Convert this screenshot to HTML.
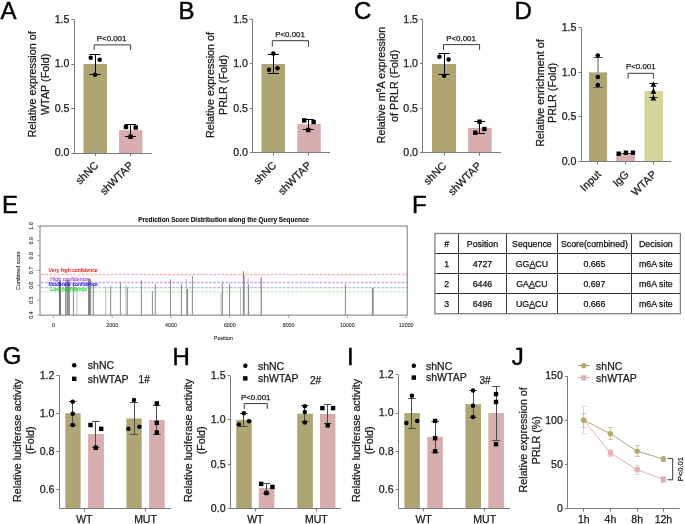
<!DOCTYPE html>
<html><head><meta charset="utf-8"><style>
html,body{margin:0;padding:0;background:#fff;}
body{width:685px;height:524px;overflow:hidden;font-family:"Liberation Sans", sans-serif;}
svg{display:block;will-change:transform;}
text{font-family:"Liberation Sans", sans-serif;}
</style></head><body>
<svg width="685" height="524" viewBox="0 0 685 524" font-family='"Liberation Sans", sans-serif'>
<rect width="685" height="524" fill="#fff"/>
<text x="0.4" y="18.8" font-size="24" text-anchor="start" fill="#000" stroke="#000" stroke-width="0.45">A</text>
<text x="178.4" y="18.8" font-size="24" text-anchor="start" fill="#000" stroke="#000" stroke-width="0.45">B</text>
<text x="353.9" y="18.6" font-size="24" text-anchor="start" fill="#000" stroke="#000" stroke-width="0.45">C</text>
<text x="514.5" y="18.7" font-size="24" text-anchor="start" fill="#000" stroke="#000" stroke-width="0.45">D</text>
<rect x="83.5" y="64" width="23.5" height="89" fill="#aea573"/>
<rect x="119" y="130.2" width="23.4" height="22.8" fill="#d8adad"/>
<line x1="74.5" y1="19.5" x2="74.5" y2="153" stroke="#7a7a7a" stroke-width="1" />
<line x1="71.4" y1="153.5" x2="74" y2="153.5" stroke="#7a7a7a" stroke-width="1" />
<text x="69.4" y="156.4" font-size="10.6" text-anchor="end" fill="#1a1a1a" stroke="#1a1a1a" stroke-width="0.25" >0.0</text>
<line x1="71.4" y1="108.5" x2="74" y2="108.5" stroke="#7a7a7a" stroke-width="1" />
<text x="69.4" y="111.9" font-size="10.6" text-anchor="end" fill="#1a1a1a" stroke="#1a1a1a" stroke-width="0.25" >0.5</text>
<line x1="71.4" y1="64.5" x2="74" y2="64.5" stroke="#7a7a7a" stroke-width="1" />
<text x="69.4" y="67.4" font-size="10.6" text-anchor="end" fill="#1a1a1a" stroke="#1a1a1a" stroke-width="0.25" >1.0</text>
<line x1="71.4" y1="19.5" x2="74" y2="19.5" stroke="#7a7a7a" stroke-width="1" />
<text x="69.4" y="22.9" font-size="10.6" text-anchor="end" fill="#1a1a1a" stroke="#1a1a1a" stroke-width="0.25" >1.5</text>
<line x1="74" y1="153.5" x2="152" y2="153.5" stroke="#7a7a7a" stroke-width="1" />
<line x1="95.5" y1="153" x2="95.5" y2="156" stroke="#7a7a7a" stroke-width="1" />
<line x1="130.5" y1="153" x2="130.5" y2="156" stroke="#7a7a7a" stroke-width="1" />
<line x1="95.5" y1="54.8" x2="95.5" y2="74" stroke="#000" stroke-width="1" />
<line x1="89.5" y1="54.5" x2="100.5" y2="54.5" stroke="#000" stroke-width="1" />
<line x1="89.5" y1="74.5" x2="100.5" y2="74.5" stroke="#000" stroke-width="1" />
<line x1="130.5" y1="124.8" x2="130.5" y2="136.8" stroke="#000" stroke-width="1" />
<line x1="125.1" y1="124.5" x2="136.1" y2="124.5" stroke="#000" stroke-width="1" />
<line x1="125.1" y1="136.5" x2="136.1" y2="136.5" stroke="#000" stroke-width="1" />
<circle cx="90.7" cy="57.7" r="2.25" fill="#000"/>
<circle cx="99.6" cy="59.8" r="2.25" fill="#000"/>
<circle cx="95" cy="74.8" r="2.25" fill="#000"/>
<rect x="123.8" y="124.8" width="4.4" height="4.4" fill="#000"/>
<rect x="133.5" y="125.3" width="4.4" height="4.4" fill="#000"/>
<rect x="128.4" y="134.6" width="4.4" height="4.4" fill="#000"/>
<polyline points="94.2,50 94.2,44.9 130.6,44.9 130.6,50" fill="none" stroke="#222" stroke-width="0.9"/>
<text x="111.6" y="41.4" font-size="7.9" text-anchor="middle" fill="#1a1a1a" stroke="#1a1a1a" stroke-width="0.25" >P&lt;0.001</text>
<text x="0" y="0" transform="translate(36,84.4) rotate(-90)" font-size="10.8" text-anchor="middle" fill="#1a1a1a" stroke="#1a1a1a" stroke-width="0.25" >Relative expression of</text>
<text x="0" y="0" transform="translate(48.5,84.4) rotate(-90)" font-size="10.8" text-anchor="middle" fill="#1a1a1a" stroke="#1a1a1a" stroke-width="0.25" >WTAP (Fold)</text>
<text x="0" y="0" transform="translate(99,166) rotate(-45)" font-size="10.8" text-anchor="end" fill="#1a1a1a" stroke="#1a1a1a" stroke-width="0.25" >shNC</text>
<text x="0" y="0" transform="translate(134,166) rotate(-45)" font-size="10.8" text-anchor="end" fill="#1a1a1a" stroke="#1a1a1a" stroke-width="0.25" >shWTAP</text>
<rect x="261.5" y="64" width="23.5" height="88.7" fill="#aea573"/>
<rect x="297.3" y="124.1" width="23.5" height="28.6" fill="#d8adad"/>
<line x1="252.5" y1="19.2" x2="252.5" y2="152.7" stroke="#7a7a7a" stroke-width="1" />
<line x1="249.9" y1="152.5" x2="252.5" y2="152.5" stroke="#7a7a7a" stroke-width="1" />
<text x="247.9" y="156.1" font-size="10.6" text-anchor="end" fill="#1a1a1a" stroke="#1a1a1a" stroke-width="0.25" >0.0</text>
<line x1="249.9" y1="108.5" x2="252.5" y2="108.5" stroke="#7a7a7a" stroke-width="1" />
<text x="247.9" y="111.6" font-size="10.6" text-anchor="end" fill="#1a1a1a" stroke="#1a1a1a" stroke-width="0.25" >0.5</text>
<line x1="249.9" y1="63.5" x2="252.5" y2="63.5" stroke="#7a7a7a" stroke-width="1" />
<text x="247.9" y="67.1" font-size="10.6" text-anchor="end" fill="#1a1a1a" stroke="#1a1a1a" stroke-width="0.25" >1.0</text>
<line x1="249.9" y1="19.5" x2="252.5" y2="19.5" stroke="#7a7a7a" stroke-width="1" />
<text x="247.9" y="22.6" font-size="10.6" text-anchor="end" fill="#1a1a1a" stroke="#1a1a1a" stroke-width="0.25" >1.5</text>
<line x1="252.5" y1="152.5" x2="330" y2="152.5" stroke="#7a7a7a" stroke-width="1" />
<line x1="273.5" y1="152.7" x2="273.5" y2="155.7" stroke="#7a7a7a" stroke-width="1" />
<line x1="308.5" y1="152.7" x2="308.5" y2="155.7" stroke="#7a7a7a" stroke-width="1" />
<line x1="273.5" y1="54.4" x2="273.5" y2="73.1" stroke="#000" stroke-width="1" />
<line x1="267.8" y1="54.5" x2="278.8" y2="54.5" stroke="#000" stroke-width="1" />
<line x1="267.8" y1="73.5" x2="278.8" y2="73.5" stroke="#000" stroke-width="1" />
<line x1="308.5" y1="119.3" x2="308.5" y2="129.5" stroke="#000" stroke-width="1" />
<line x1="302.7" y1="119.5" x2="313.7" y2="119.5" stroke="#000" stroke-width="1" />
<line x1="302.7" y1="129.5" x2="313.7" y2="129.5" stroke="#000" stroke-width="1" />
<circle cx="273.3" cy="53.6" r="2.25" fill="#000"/>
<circle cx="269" cy="69.7" r="2.25" fill="#000"/>
<circle cx="277.5" cy="68.3" r="2.25" fill="#000"/>
<rect x="302" y="118.2" width="4.4" height="4.4" fill="#000"/>
<rect x="311.4" y="119.8" width="4.4" height="4.4" fill="#000"/>
<rect x="306" y="127.8" width="4.4" height="4.4" fill="#000"/>
<polyline points="272.3,46.6 272.3,40.7 308.5,40.7 308.5,46.6" fill="none" stroke="#222" stroke-width="0.9"/>
<text x="290" y="36.6" font-size="7.9" text-anchor="middle" fill="#1a1a1a" stroke="#1a1a1a" stroke-width="0.25" >P&lt;0.001</text>
<text x="0" y="0" transform="translate(214.3,85) rotate(-90)" font-size="10.8" text-anchor="middle" fill="#1a1a1a" stroke="#1a1a1a" stroke-width="0.25" >Relative expression of</text>
<text x="0" y="0" transform="translate(227.3,85) rotate(-90)" font-size="10.8" text-anchor="middle" fill="#1a1a1a" stroke="#1a1a1a" stroke-width="0.25" >PRLR (Fold)</text>
<text x="0" y="0" transform="translate(277,166) rotate(-45)" font-size="10.8" text-anchor="end" fill="#1a1a1a" stroke="#1a1a1a" stroke-width="0.25" >shNC</text>
<text x="0" y="0" transform="translate(312,166) rotate(-45)" font-size="10.8" text-anchor="end" fill="#1a1a1a" stroke="#1a1a1a" stroke-width="0.25" >shWTAP</text>
<rect x="432" y="64" width="24.1" height="88.7" fill="#aea573"/>
<rect x="468.1" y="127.9" width="23.5" height="24.8" fill="#d8adad"/>
<line x1="422.5" y1="19.2" x2="422.5" y2="152.7" stroke="#7a7a7a" stroke-width="1" />
<line x1="420" y1="152.5" x2="422.6" y2="152.5" stroke="#7a7a7a" stroke-width="1" />
<text x="418" y="156.1" font-size="10.6" text-anchor="end" fill="#1a1a1a" stroke="#1a1a1a" stroke-width="0.25" >0.0</text>
<line x1="420" y1="108.5" x2="422.6" y2="108.5" stroke="#7a7a7a" stroke-width="1" />
<text x="418" y="111.6" font-size="10.6" text-anchor="end" fill="#1a1a1a" stroke="#1a1a1a" stroke-width="0.25" >0.5</text>
<line x1="420" y1="63.5" x2="422.6" y2="63.5" stroke="#7a7a7a" stroke-width="1" />
<text x="418" y="67.1" font-size="10.6" text-anchor="end" fill="#1a1a1a" stroke="#1a1a1a" stroke-width="0.25" >1.0</text>
<line x1="420" y1="19.5" x2="422.6" y2="19.5" stroke="#7a7a7a" stroke-width="1" />
<text x="418" y="22.6" font-size="10.6" text-anchor="end" fill="#1a1a1a" stroke="#1a1a1a" stroke-width="0.25" >1.5</text>
<line x1="422.6" y1="152.5" x2="501" y2="152.5" stroke="#7a7a7a" stroke-width="1" />
<line x1="444.5" y1="152.7" x2="444.5" y2="155.7" stroke="#7a7a7a" stroke-width="1" />
<line x1="479.5" y1="152.7" x2="479.5" y2="155.7" stroke="#7a7a7a" stroke-width="1" />
<line x1="444.5" y1="53.9" x2="444.5" y2="74.5" stroke="#000" stroke-width="1" />
<line x1="438.5" y1="53.5" x2="449.5" y2="53.5" stroke="#000" stroke-width="1" />
<line x1="438.5" y1="74.5" x2="449.5" y2="74.5" stroke="#000" stroke-width="1" />
<line x1="479.5" y1="121.7" x2="479.5" y2="133" stroke="#000" stroke-width="1" />
<line x1="474.1" y1="121.5" x2="485.1" y2="121.5" stroke="#000" stroke-width="1" />
<line x1="474.1" y1="133.5" x2="485.1" y2="133.5" stroke="#000" stroke-width="1" />
<circle cx="439.4" cy="56.8" r="2.25" fill="#000"/>
<circle cx="448.6" cy="59.5" r="2.25" fill="#000"/>
<circle cx="444.1" cy="75.8" r="2.25" fill="#000"/>
<rect x="477.4" y="119.5" width="4.4" height="4.4" fill="#000"/>
<rect x="482.2" y="126.8" width="4.4" height="4.4" fill="#000"/>
<rect x="473.1" y="130.5" width="4.4" height="4.4" fill="#000"/>
<polyline points="443.5,49.9 443.5,44.6 479.6,44.6 479.6,49.9" fill="none" stroke="#222" stroke-width="0.9"/>
<text x="461" y="40.9" font-size="7.9" text-anchor="middle" fill="#1a1a1a" stroke="#1a1a1a" stroke-width="0.25" >P&lt;0.001</text>
<text x="0" y="0" transform="translate(447,166.5) rotate(-45)" font-size="10.8" text-anchor="end" fill="#1a1a1a" stroke="#1a1a1a" stroke-width="0.25" >shNC</text>
<text x="0" y="0" transform="translate(482,166.5) rotate(-45)" font-size="10.8" text-anchor="end" fill="#1a1a1a" stroke="#1a1a1a" stroke-width="0.25" >shWTAP</text>
<text x="0" y="0" transform="translate(384.5,85) rotate(-90)" font-size="10.8" text-anchor="middle" fill="#1a1a1a" stroke="#1a1a1a" stroke-width="0.25" >Relative m<tspan font-size="7" dy="-4">6</tspan><tspan dy="4">A expression</tspan></text>
<text x="0" y="0" transform="translate(397.5,86) rotate(-90)" font-size="10.8" text-anchor="middle" fill="#1a1a1a" stroke="#1a1a1a" stroke-width="0.25" >of PRLR (Fold)</text>
<rect x="589" y="72.4" width="18.1" height="88.8" fill="#aea573"/>
<rect x="616.3" y="154.3" width="18.7" height="6.9" fill="#d8adad"/>
<rect x="644.4" y="91" width="18.6" height="70.2" fill="#d5d59b"/>
<line x1="581.5" y1="27.7" x2="581.5" y2="161.2" stroke="#7a7a7a" stroke-width="1" />
<line x1="578.4" y1="161.5" x2="581" y2="161.5" stroke="#7a7a7a" stroke-width="1" />
<text x="576.4" y="164.6" font-size="10.6" text-anchor="end" fill="#1a1a1a" stroke="#1a1a1a" stroke-width="0.25" >0.0</text>
<line x1="578.4" y1="116.5" x2="581" y2="116.5" stroke="#7a7a7a" stroke-width="1" />
<text x="576.4" y="120.1" font-size="10.6" text-anchor="end" fill="#1a1a1a" stroke="#1a1a1a" stroke-width="0.25" >0.5</text>
<line x1="578.4" y1="72.5" x2="581" y2="72.5" stroke="#7a7a7a" stroke-width="1" />
<text x="576.4" y="75.6" font-size="10.6" text-anchor="end" fill="#1a1a1a" stroke="#1a1a1a" stroke-width="0.25" >1.0</text>
<line x1="578.4" y1="27.5" x2="581" y2="27.5" stroke="#7a7a7a" stroke-width="1" />
<text x="576.4" y="31.1" font-size="10.6" text-anchor="end" fill="#1a1a1a" stroke="#1a1a1a" stroke-width="0.25" >1.5</text>
<line x1="581" y1="161.5" x2="671" y2="161.5" stroke="#7a7a7a" stroke-width="1" />
<line x1="597.5" y1="161.2" x2="597.5" y2="164.2" stroke="#7a7a7a" stroke-width="1" />
<line x1="625.5" y1="161.2" x2="625.5" y2="164.2" stroke="#7a7a7a" stroke-width="1" />
<line x1="653.5" y1="161.2" x2="653.5" y2="164.2" stroke="#7a7a7a" stroke-width="1" />
<line x1="598.1" y1="57.2" x2="598.1" y2="87.6" stroke="#a0a0a0" stroke-width="1.7" />
<line x1="593.3" y1="57.5" x2="602.9" y2="57.5" stroke="#555" stroke-width="1" />
<line x1="593.3" y1="87.5" x2="602.9" y2="87.5" stroke="#555" stroke-width="1" />
<line x1="653.5" y1="83.6" x2="653.5" y2="97.6" stroke="#333" stroke-width="1" />
<line x1="649.1" y1="83.5" x2="657.7" y2="83.5" stroke="#333" stroke-width="1" />
<line x1="649.1" y1="97.5" x2="657.7" y2="97.5" stroke="#333" stroke-width="1" />
<line x1="625.5" y1="153.5" x2="625.5" y2="153.5" stroke="#333" stroke-width="1" />
<line x1="621.4" y1="153.5" x2="630.4" y2="153.5" stroke="#333" stroke-width="1" />
<line x1="621.4" y1="153.5" x2="630.4" y2="153.5" stroke="#333" stroke-width="1" />
<circle cx="597.8" cy="55.5" r="2.25" fill="#000"/>
<circle cx="597.8" cy="77" r="2.25" fill="#000"/>
<circle cx="597.8" cy="85" r="2.25" fill="#000"/>
<rect x="616.5" y="151.5" width="4.4" height="4.4" fill="#000"/>
<rect x="623.7" y="150.5" width="4.4" height="4.4" fill="#000"/>
<rect x="630.7" y="150.5" width="4.4" height="4.4" fill="#000"/>
<polygon points="653.4,81.18 656.2,86.82 650.6,86.82" fill="#000"/>
<polygon points="653.4,88.08 656.2,93.72 650.6,93.72" fill="#000"/>
<polygon points="653.4,94.78 656.2,100.42 650.6,100.42" fill="#000"/>
<polyline points="628.1,78.6 628.1,73.3 653.4,73.3 653.4,78.6" fill="none" stroke="#222" stroke-width="0.9"/>
<text x="640.8" y="68.6" font-size="7.9" text-anchor="middle" fill="#1a1a1a" stroke="#1a1a1a" stroke-width="0.25" >P&lt;0.001</text>
<text x="0" y="0" transform="translate(543.5,93) rotate(-90)" font-size="10.8" text-anchor="middle" fill="#1a1a1a" stroke="#1a1a1a" stroke-width="0.25" >Relative enrichment of</text>
<text x="0" y="0" transform="translate(555.7,93) rotate(-90)" font-size="10.8" text-anchor="middle" fill="#1a1a1a" stroke="#1a1a1a" stroke-width="0.25" >PRLR (Fold)</text>
<text x="0" y="0" transform="translate(601.5,175) rotate(-45)" font-size="10.8" text-anchor="end" fill="#1a1a1a" stroke="#1a1a1a" stroke-width="0.25" >Input</text>
<text x="0" y="0" transform="translate(629.5,175) rotate(-45)" font-size="10.8" text-anchor="end" fill="#1a1a1a" stroke="#1a1a1a" stroke-width="0.25" >IgG</text>
<text x="0" y="0" transform="translate(657.3,175) rotate(-45)" font-size="10.8" text-anchor="end" fill="#1a1a1a" stroke="#1a1a1a" stroke-width="0.25" >WTAP</text>
<text x="1.9" y="212.9" font-size="24" text-anchor="start" fill="#000" stroke="#000" stroke-width="0.45">E</text>
<line x1="41" y1="274.5" x2="407.2" y2="274.5" stroke="#f8b8b8" stroke-width="1.4" stroke-dasharray="2.8 1.3"/>
<line x1="41" y1="282.5" x2="407.2" y2="282.5" stroke="#cfa8f6" stroke-width="1.4" stroke-dasharray="2.8 1.3"/>
<line x1="41" y1="287.6" x2="407.2" y2="287.6" stroke="#b8b8f8" stroke-width="1.4" stroke-dasharray="2.8 1.3"/>
<line x1="41" y1="291.9" x2="407.2" y2="291.9" stroke="#b8f0b8" stroke-width="1.4" stroke-dasharray="2.8 1.3"/>
<line x1="59.5" y1="280.6" x2="59.5" y2="315.1" stroke="#4a4a4a" stroke-width="0.8" />
<line x1="60.4" y1="280.6" x2="60.4" y2="315.1" stroke="#4a4a4a" stroke-width="0.8" />
<line x1="65.5" y1="281.5" x2="65.5" y2="315.1" stroke="#6e6e6e" stroke-width="0.8" />
<line x1="67.1" y1="279.7" x2="67.1" y2="315.1" stroke="#4a4a4a" stroke-width="0.8" />
<line x1="68.1" y1="279.7" x2="68.1" y2="315.1" stroke="#4a4a4a" stroke-width="0.8" />
<line x1="69.2" y1="280.5" x2="69.2" y2="315.1" stroke="#4a4a4a" stroke-width="0.8" />
<line x1="73.4" y1="281.8" x2="73.4" y2="315.1" stroke="#6e6e6e" stroke-width="0.8" />
<line x1="76.9" y1="286.5" x2="76.9" y2="315.1" stroke="#b0b0b0" stroke-width="0.8" />
<line x1="88.7" y1="278.3" x2="88.7" y2="315.1" stroke="#4a4a4a" stroke-width="0.8" />
<line x1="89.7" y1="278.3" x2="89.7" y2="315.1" stroke="#4a4a4a" stroke-width="0.8" />
<line x1="90.7" y1="279.5" x2="90.7" y2="315.1" stroke="#6e6e6e" stroke-width="0.8" />
<line x1="93.4" y1="283.8" x2="93.4" y2="315.1" stroke="#6e6e6e" stroke-width="0.8" />
<line x1="105.7" y1="286.7" x2="105.7" y2="315.1" stroke="#b0b0b0" stroke-width="0.8" />
<line x1="110.7" y1="286" x2="110.7" y2="315.1" stroke="#6e6e6e" stroke-width="0.8" />
<line x1="120.4" y1="282.6" x2="120.4" y2="315.1" stroke="#6e6e6e" stroke-width="0.8" />
<line x1="126" y1="284.8" x2="126" y2="315.1" stroke="#b0b0b0" stroke-width="0.8" />
<line x1="127.3" y1="287.7" x2="127.3" y2="315.1" stroke="#6e6e6e" stroke-width="0.8" />
<line x1="141.4" y1="280.4" x2="141.4" y2="315.1" stroke="#6e6e6e" stroke-width="0.8" />
<line x1="152.4" y1="291.1" x2="152.4" y2="315.1" stroke="#6e6e6e" stroke-width="0.8" />
<line x1="155.3" y1="284.1" x2="155.3" y2="315.1" stroke="#6e6e6e" stroke-width="0.8" />
<line x1="170.5" y1="279.3" x2="170.5" y2="315.1" stroke="#6e6e6e" stroke-width="0.8" />
<line x1="181.4" y1="284.1" x2="181.4" y2="315.1" stroke="#6e6e6e" stroke-width="0.8" />
<line x1="186.5" y1="279" x2="186.5" y2="315.1" stroke="#b0b0b0" stroke-width="0.8" />
<line x1="187.3" y1="288.9" x2="187.3" y2="315.1" stroke="#4a4a4a" stroke-width="0.8" />
<line x1="192.4" y1="275.8" x2="192.4" y2="315.1" stroke="#6e6e6e" stroke-width="0.8" />
<line x1="221.1" y1="292.1" x2="221.1" y2="315.1" stroke="#b0b0b0" stroke-width="0.8" />
<line x1="222.4" y1="281.9" x2="222.4" y2="315.1" stroke="#6e6e6e" stroke-width="0.8" />
<line x1="229.5" y1="283.4" x2="229.5" y2="315.1" stroke="#6e6e6e" stroke-width="0.8" />
<line x1="240.5" y1="286.3" x2="240.5" y2="315.1" stroke="#b0b0b0" stroke-width="0.8" />
<line x1="243.4" y1="271" x2="243.4" y2="315.1" stroke="#6e6e6e" stroke-width="0.8" />
<line x1="244.2" y1="275.3" x2="244.2" y2="315.1" stroke="#6e6e6e" stroke-width="0.8" />
<line x1="248.2" y1="277.2" x2="248.2" y2="315.1" stroke="#b0b0b0" stroke-width="0.8" />
<line x1="248.6" y1="284.8" x2="248.6" y2="315.1" stroke="#6e6e6e" stroke-width="0.8" />
<line x1="261.2" y1="277.2" x2="261.2" y2="315.1" stroke="#4a4a4a" stroke-width="0.8" />
<line x1="345.4" y1="284.1" x2="345.4" y2="315.1" stroke="#6e6e6e" stroke-width="0.8" />
<line x1="372.4" y1="287.8" x2="372.4" y2="315.1" stroke="#6e6e6e" stroke-width="0.8" />
<line x1="373.2" y1="287.8" x2="373.2" y2="315.1" stroke="#6e6e6e" stroke-width="0.8" />
<rect x="40" y="226" width="367.2" height="89.1" fill="none" stroke="#7a7a7a" stroke-width="1"/>
<line x1="37.2" y1="315.1" x2="40" y2="315.1" stroke="#888" stroke-width="0.8" />
<text x="0" y="0" transform="translate(33,315.1) rotate(-90)" font-size="5.3" text-anchor="middle" fill="#333" stroke="#333" stroke-width="0.12" >0.4</text>
<line x1="37.2" y1="300.25" x2="40" y2="300.25" stroke="#888" stroke-width="0.8" />
<text x="0" y="0" transform="translate(33,300.25) rotate(-90)" font-size="5.3" text-anchor="middle" fill="#333" stroke="#333" stroke-width="0.12" >0.5</text>
<line x1="37.2" y1="285.4" x2="40" y2="285.4" stroke="#888" stroke-width="0.8" />
<text x="0" y="0" transform="translate(33,285.4) rotate(-90)" font-size="5.3" text-anchor="middle" fill="#333" stroke="#333" stroke-width="0.12" >0.6</text>
<line x1="37.2" y1="270.55" x2="40" y2="270.55" stroke="#888" stroke-width="0.8" />
<text x="0" y="0" transform="translate(33,270.55) rotate(-90)" font-size="5.3" text-anchor="middle" fill="#333" stroke="#333" stroke-width="0.12" >0.7</text>
<line x1="37.2" y1="255.7" x2="40" y2="255.7" stroke="#888" stroke-width="0.8" />
<text x="0" y="0" transform="translate(33,255.7) rotate(-90)" font-size="5.3" text-anchor="middle" fill="#333" stroke="#333" stroke-width="0.12" >0.8</text>
<line x1="37.2" y1="240.85" x2="40" y2="240.85" stroke="#888" stroke-width="0.8" />
<text x="0" y="0" transform="translate(33,240.85) rotate(-90)" font-size="5.3" text-anchor="middle" fill="#333" stroke="#333" stroke-width="0.12" >0.9</text>
<line x1="37.2" y1="226" x2="40" y2="226" stroke="#888" stroke-width="0.8" />
<text x="0" y="0" transform="translate(33,226) rotate(-90)" font-size="5.3" text-anchor="middle" fill="#333" stroke="#333" stroke-width="0.12" >1.0</text>
<line x1="53.4" y1="315.1" x2="53.4" y2="317.9" stroke="#888" stroke-width="0.8" />
<text x="53.4" y="326.8" font-size="5.3" text-anchor="middle" fill="#333" stroke="#333" stroke-width="0.12" >0</text>
<line x1="112.2" y1="315.1" x2="112.2" y2="317.9" stroke="#888" stroke-width="0.8" />
<text x="112.2" y="326.8" font-size="5.3" text-anchor="middle" fill="#333" stroke="#333" stroke-width="0.12" >2000</text>
<line x1="171" y1="315.1" x2="171" y2="317.9" stroke="#888" stroke-width="0.8" />
<text x="171" y="326.8" font-size="5.3" text-anchor="middle" fill="#333" stroke="#333" stroke-width="0.12" >4000</text>
<line x1="229.8" y1="315.1" x2="229.8" y2="317.9" stroke="#888" stroke-width="0.8" />
<text x="229.8" y="326.8" font-size="5.3" text-anchor="middle" fill="#333" stroke="#333" stroke-width="0.12" >6000</text>
<line x1="288.6" y1="315.1" x2="288.6" y2="317.9" stroke="#888" stroke-width="0.8" />
<text x="288.6" y="326.8" font-size="5.3" text-anchor="middle" fill="#333" stroke="#333" stroke-width="0.12" >8000</text>
<line x1="347.4" y1="315.1" x2="347.4" y2="317.9" stroke="#888" stroke-width="0.8" />
<text x="347.4" y="326.8" font-size="5.3" text-anchor="middle" fill="#333" stroke="#333" stroke-width="0.12" >10000</text>
<line x1="406.2" y1="315.1" x2="406.2" y2="317.9" stroke="#888" stroke-width="0.8" />
<text x="406.2" y="326.8" font-size="5.3" text-anchor="middle" fill="#333" stroke="#333" stroke-width="0.12" >12000</text>
<text x="223.4" y="339.7" font-size="5.4" text-anchor="middle" fill="#333" stroke="#333" stroke-width="0.12" >Position</text>
<text x="0" y="0" transform="translate(20,270.6) rotate(-90)" font-size="5.3" text-anchor="middle" fill="#333" stroke="#333" stroke-width="0.12" >Combined score</text>
<text x="223.6" y="221.7" font-size="6.4" text-anchor="middle" fill="#111" font-weight="bold" stroke="#111" stroke-width="0.12" >Prediction Score Distribution along the Query Sequence</text>
<text x="48.6" y="272.2" font-size="5.3" text-anchor="start" fill="#f01010" stroke="#f01010" stroke-width="0.12" >Very high confidence</text>
<text x="50.3" y="280.6" font-size="5.3" text-anchor="start" fill="#a040f0" stroke="#a040f0" stroke-width="0.12" >High confidence</text>
<text x="48.6" y="286.1" font-size="5.3" text-anchor="start" fill="#1010f0" stroke="#1010f0" stroke-width="0.12" >Moderate confidence</text>
<text x="50.3" y="291" font-size="5.3" text-anchor="start" fill="#10d010" stroke="#10d010" stroke-width="0.12" >Low confidence</text>
<text x="412" y="212.9" font-size="24" text-anchor="start" fill="#000" stroke="#000" stroke-width="0.45">F</text>
<line x1="458.5" y1="233.5" x2="458.5" y2="313.7" stroke="#333" stroke-width="1" />
<line x1="506.5" y1="233.5" x2="506.5" y2="313.7" stroke="#333" stroke-width="1" />
<line x1="557.5" y1="233.5" x2="557.5" y2="313.7" stroke="#333" stroke-width="1" />
<line x1="631.5" y1="233.5" x2="631.5" y2="313.7" stroke="#333" stroke-width="1" />
<line x1="434.9" y1="253.5" x2="680.4" y2="253.5" stroke="#333" stroke-width="1" />
<line x1="434.9" y1="273.5" x2="680.4" y2="273.5" stroke="#333" stroke-width="1" />
<line x1="434.9" y1="293.5" x2="680.4" y2="293.5" stroke="#333" stroke-width="1" />
<rect x="434.9" y="233.5" width="245.5" height="80.2" fill="none" stroke="#808080" stroke-width="1.3"/>
<text x="446.7" y="246.75" font-size="8.8" text-anchor="middle" fill="#111" stroke="#111" stroke-width="0.25" >#</text>
<text x="482.45" y="246.75" font-size="8.8" text-anchor="middle" fill="#111" stroke="#111" stroke-width="0.25" >Position</text>
<text x="531.9" y="246.75" font-size="8.8" text-anchor="middle" fill="#111" stroke="#111" stroke-width="0.25" >Sequence</text>
<text x="594.4" y="246.75" font-size="8.8" text-anchor="middle" fill="#111" stroke="#111" stroke-width="0.25" >Score(combined)</text>
<text x="655.9" y="246.75" font-size="8.8" text-anchor="middle" fill="#111" stroke="#111" stroke-width="0.25" >Decision</text>
<text x="446.7" y="266.85" font-size="8.8" text-anchor="middle" fill="#111" stroke="#111" stroke-width="0.25" >1</text>
<text x="482.45" y="266.85" font-size="8.8" text-anchor="middle" fill="#111" stroke="#111" stroke-width="0.25" >4727</text>
<text x="531.9" y="266.85" font-size="8.8" text-anchor="middle" fill="#111" stroke="#111" stroke-width="0.25" >GG<tspan text-decoration="underline">A</tspan>CU</text>
<text x="594.4" y="266.85" font-size="8.8" text-anchor="middle" fill="#111" stroke="#111" stroke-width="0.25" >0.665</text>
<text x="655.9" y="266.85" font-size="8.8" text-anchor="middle" fill="#111" stroke="#111" stroke-width="0.25" >m6A site</text>
<text x="446.7" y="286.85" font-size="8.8" text-anchor="middle" fill="#111" stroke="#111" stroke-width="0.25" >2</text>
<text x="482.45" y="286.85" font-size="8.8" text-anchor="middle" fill="#111" stroke="#111" stroke-width="0.25" >6446</text>
<text x="531.9" y="286.85" font-size="8.8" text-anchor="middle" fill="#111" stroke="#111" stroke-width="0.25" >GA<tspan text-decoration="underline">A</tspan>CU</text>
<text x="594.4" y="286.85" font-size="8.8" text-anchor="middle" fill="#111" stroke="#111" stroke-width="0.25" >0.697</text>
<text x="655.9" y="286.85" font-size="8.8" text-anchor="middle" fill="#111" stroke="#111" stroke-width="0.25" >m6A site</text>
<text x="446.7" y="306.85" font-size="8.8" text-anchor="middle" fill="#111" stroke="#111" stroke-width="0.25" >3</text>
<text x="482.45" y="306.85" font-size="8.8" text-anchor="middle" fill="#111" stroke="#111" stroke-width="0.25" >6496</text>
<text x="531.9" y="306.85" font-size="8.8" text-anchor="middle" fill="#111" stroke="#111" stroke-width="0.25" >UG<tspan text-decoration="underline">A</tspan>CU</text>
<text x="594.4" y="306.85" font-size="8.8" text-anchor="middle" fill="#111" stroke="#111" stroke-width="0.25" >0.666</text>
<text x="655.9" y="306.85" font-size="8.8" text-anchor="middle" fill="#111" stroke="#111" stroke-width="0.25" >m6A site</text>
<text x="2.7" y="363.8" font-size="24" text-anchor="start" fill="#000" stroke="#000" stroke-width="0.45">G</text>
<rect x="65.3" y="413.2" width="15.3" height="95.3" fill="#aea573"/>
<rect x="88.1" y="433.9" width="15.8" height="74.6" fill="#d8adad"/>
<rect x="126.4" y="418.5" width="15.3" height="90" fill="#aea573"/>
<rect x="149.1" y="420.1" width="15.6" height="88.4" fill="#d8adad"/>
<line x1="59.5" y1="375.15" x2="59.5" y2="508.5" stroke="#7a7a7a" stroke-width="1" />
<line x1="56.4" y1="489.5" x2="59" y2="489.5" stroke="#7a7a7a" stroke-width="1" />
<text x="54.4" y="492.85" font-size="10.6" text-anchor="end" fill="#1a1a1a" stroke="#1a1a1a" stroke-width="0.25" >0.6</text>
<line x1="56.4" y1="451.5" x2="59" y2="451.5" stroke="#7a7a7a" stroke-width="1" />
<text x="54.4" y="454.75" font-size="10.6" text-anchor="end" fill="#1a1a1a" stroke="#1a1a1a" stroke-width="0.25" >0.8</text>
<line x1="56.4" y1="413.5" x2="59" y2="413.5" stroke="#7a7a7a" stroke-width="1" />
<text x="54.4" y="416.65" font-size="10.6" text-anchor="end" fill="#1a1a1a" stroke="#1a1a1a" stroke-width="0.25" >1.0</text>
<line x1="56.4" y1="375.5" x2="59" y2="375.5" stroke="#7a7a7a" stroke-width="1" />
<text x="54.4" y="378.55" font-size="10.6" text-anchor="end" fill="#1a1a1a" stroke="#1a1a1a" stroke-width="0.25" >1.2</text>
<line x1="59" y1="508.5" x2="171" y2="508.5" stroke="#7a7a7a" stroke-width="1" />
<line x1="84.5" y1="508.5" x2="84.5" y2="511.5" stroke="#7a7a7a" stroke-width="1" />
<line x1="145.5" y1="508.5" x2="145.5" y2="511.5" stroke="#7a7a7a" stroke-width="1" />
<line x1="72.5" y1="401.8" x2="72.5" y2="425" stroke="#4a4a4a" stroke-width="1" />
<line x1="68.9" y1="401.5" x2="76.5" y2="401.5" stroke="#4a4a4a" stroke-width="1" />
<line x1="68.9" y1="425.5" x2="76.5" y2="425.5" stroke="#4a4a4a" stroke-width="1" />
<line x1="95.5" y1="421.4" x2="95.5" y2="447.5" stroke="#4a4a4a" stroke-width="1" />
<line x1="92" y1="421.5" x2="99.6" y2="421.5" stroke="#4a4a4a" stroke-width="1" />
<line x1="92" y1="447.5" x2="99.6" y2="447.5" stroke="#4a4a4a" stroke-width="1" />
<line x1="134.5" y1="402.3" x2="134.5" y2="434.1" stroke="#4a4a4a" stroke-width="1" />
<line x1="130.2" y1="402.5" x2="137.8" y2="402.5" stroke="#4a4a4a" stroke-width="1" />
<line x1="130.2" y1="434.5" x2="137.8" y2="434.5" stroke="#4a4a4a" stroke-width="1" />
<line x1="156.5" y1="405.4" x2="156.5" y2="434.1" stroke="#4a4a4a" stroke-width="1" />
<line x1="153" y1="405.5" x2="160.6" y2="405.5" stroke="#4a4a4a" stroke-width="1" />
<line x1="153" y1="434.5" x2="160.6" y2="434.5" stroke="#4a4a4a" stroke-width="1" />
<circle cx="72.7" cy="401.8" r="2.25" fill="#000"/>
<circle cx="72.7" cy="413.7" r="2.25" fill="#000"/>
<circle cx="72.7" cy="425" r="2.25" fill="#000"/>
<rect x="88.3" y="422.8" width="4.4" height="4.4" fill="#000"/>
<rect x="99" y="426.6" width="4.4" height="4.4" fill="#000"/>
<rect x="93.6" y="445.6" width="4.4" height="4.4" fill="#000"/>
<circle cx="134" cy="400" r="2.25" fill="#000"/>
<circle cx="128.3" cy="428.8" r="2.25" fill="#000"/>
<circle cx="139.4" cy="426.8" r="2.25" fill="#000"/>
<rect x="154.6" y="401.2" width="4.4" height="4.4" fill="#000"/>
<rect x="154.6" y="420.6" width="4.4" height="4.4" fill="#000"/>
<rect x="154.6" y="430.3" width="4.4" height="4.4" fill="#000"/>
<text x="84.3" y="522.6" font-size="10.5" text-anchor="middle" fill="#1a1a1a" stroke="#1a1a1a" stroke-width="0.25" >WT</text>
<text x="145.5" y="522.6" font-size="10.5" text-anchor="middle" fill="#1a1a1a" stroke="#1a1a1a" stroke-width="0.25" >MUT</text>
<text x="0" y="0" transform="translate(21,440.4) rotate(-90)" font-size="10.7" text-anchor="middle" fill="#1a1a1a" stroke="#1a1a1a" stroke-width="0.25" >Relative luciferase activity</text>
<text x="0" y="0" transform="translate(33.5,440.4) rotate(-90)" font-size="10.7" text-anchor="middle" fill="#1a1a1a" stroke="#1a1a1a" stroke-width="0.25" >(Fold)</text>
<circle cx="74.2" cy="365.3" r="2.25" fill="#000"/>
<rect x="72" y="376.6" width="4.4" height="4.4" fill="#000"/>
<text x="87.8" y="369.1" font-size="10.5" text-anchor="start" fill="#1a1a1a" stroke="#1a1a1a" stroke-width="0.25" >shNC</text>
<text x="87.8" y="382.6" font-size="10.5" text-anchor="start" fill="#1a1a1a" stroke="#1a1a1a" stroke-width="0.25" >shWTAP</text>
<text x="138.6" y="383.3" font-size="10" text-anchor="start" fill="#1a1a1a" stroke="#1a1a1a" stroke-width="0.25" >1#</text>
<text x="172.4" y="364.6" font-size="24" text-anchor="start" fill="#000" stroke="#000" stroke-width="0.45">H</text>
<rect x="236.2" y="419.9" width="15.6" height="88.4" fill="#aea573"/>
<rect x="258.8" y="487.8" width="15.6" height="20.5" fill="#d8adad"/>
<rect x="297.2" y="413.7" width="15.7" height="94.6" fill="#aea573"/>
<rect x="320" y="413.9" width="15.4" height="94.4" fill="#d8adad"/>
<line x1="230.5" y1="375.7" x2="230.5" y2="508.3" stroke="#7a7a7a" stroke-width="1" />
<line x1="227.6" y1="508.5" x2="230.2" y2="508.5" stroke="#7a7a7a" stroke-width="1" />
<text x="225.6" y="511.7" font-size="10.6" text-anchor="end" fill="#1a1a1a" stroke="#1a1a1a" stroke-width="0.25" >0.0</text>
<line x1="227.6" y1="464.5" x2="230.2" y2="464.5" stroke="#7a7a7a" stroke-width="1" />
<text x="225.6" y="467.5" font-size="10.6" text-anchor="end" fill="#1a1a1a" stroke="#1a1a1a" stroke-width="0.25" >0.5</text>
<line x1="227.6" y1="419.5" x2="230.2" y2="419.5" stroke="#7a7a7a" stroke-width="1" />
<text x="225.6" y="423.3" font-size="10.6" text-anchor="end" fill="#1a1a1a" stroke="#1a1a1a" stroke-width="0.25" >1.0</text>
<line x1="227.6" y1="375.5" x2="230.2" y2="375.5" stroke="#7a7a7a" stroke-width="1" />
<text x="225.6" y="379.1" font-size="10.6" text-anchor="end" fill="#1a1a1a" stroke="#1a1a1a" stroke-width="0.25" >1.5</text>
<line x1="230.2" y1="508.5" x2="341" y2="508.5" stroke="#7a7a7a" stroke-width="1" />
<line x1="255.5" y1="508.3" x2="255.5" y2="511.3" stroke="#7a7a7a" stroke-width="1" />
<line x1="316.5" y1="508.3" x2="316.5" y2="511.3" stroke="#7a7a7a" stroke-width="1" />
<line x1="243.5" y1="413" x2="243.5" y2="426" stroke="#4a4a4a" stroke-width="1" />
<line x1="240" y1="413.5" x2="247.6" y2="413.5" stroke="#4a4a4a" stroke-width="1" />
<line x1="240" y1="426.5" x2="247.6" y2="426.5" stroke="#4a4a4a" stroke-width="1" />
<line x1="266.5" y1="483.9" x2="266.5" y2="493" stroke="#4a4a4a" stroke-width="1" />
<line x1="262.6" y1="483.5" x2="270.2" y2="483.5" stroke="#4a4a4a" stroke-width="1" />
<line x1="262.6" y1="493.5" x2="270.2" y2="493.5" stroke="#4a4a4a" stroke-width="1" />
<line x1="304.5" y1="405.3" x2="304.5" y2="421.5" stroke="#4a4a4a" stroke-width="1" />
<line x1="301" y1="405.5" x2="308.6" y2="405.5" stroke="#4a4a4a" stroke-width="1" />
<line x1="301" y1="421.5" x2="308.6" y2="421.5" stroke="#4a4a4a" stroke-width="1" />
<line x1="327.5" y1="404.1" x2="327.5" y2="423.9" stroke="#4a4a4a" stroke-width="1" />
<line x1="323.9" y1="404.5" x2="331.5" y2="404.5" stroke="#4a4a4a" stroke-width="1" />
<line x1="323.9" y1="423.5" x2="331.5" y2="423.5" stroke="#4a4a4a" stroke-width="1" />
<circle cx="243.8" cy="413.3" r="2.25" fill="#000"/>
<circle cx="238.9" cy="424.6" r="2.25" fill="#000"/>
<circle cx="249" cy="421.3" r="2.25" fill="#000"/>
<rect x="259" y="481.7" width="4.4" height="4.4" fill="#000"/>
<rect x="270.3" y="484.7" width="4.4" height="4.4" fill="#000"/>
<rect x="264.2" y="490.8" width="4.4" height="4.4" fill="#000"/>
<circle cx="304.8" cy="406.2" r="2.25" fill="#000"/>
<circle cx="304.8" cy="412" r="2.25" fill="#000"/>
<circle cx="304.8" cy="422.4" r="2.25" fill="#000"/>
<rect x="320.2" y="405.9" width="4.4" height="4.4" fill="#000"/>
<rect x="330.9" y="405.9" width="4.4" height="4.4" fill="#000"/>
<rect x="325.5" y="423.1" width="4.4" height="4.4" fill="#000"/>
<text x="255.3" y="522.6" font-size="10.5" text-anchor="middle" fill="#1a1a1a" stroke="#1a1a1a" stroke-width="0.25" >WT</text>
<text x="316.4" y="522.6" font-size="10.5" text-anchor="middle" fill="#1a1a1a" stroke="#1a1a1a" stroke-width="0.25" >MUT</text>
<text x="0" y="0" transform="translate(192.2,440.4) rotate(-90)" font-size="10.7" text-anchor="middle" fill="#1a1a1a" stroke="#1a1a1a" stroke-width="0.25" >Relative luciferase activity</text>
<text x="0" y="0" transform="translate(204.7,440.4) rotate(-90)" font-size="10.7" text-anchor="middle" fill="#1a1a1a" stroke="#1a1a1a" stroke-width="0.25" >(Fold)</text>
<circle cx="245.3" cy="365.7" r="2.25" fill="#000"/>
<rect x="243.1" y="376.2" width="4.4" height="4.4" fill="#000"/>
<text x="257.9" y="369.5" font-size="10.5" text-anchor="start" fill="#1a1a1a" stroke="#1a1a1a" stroke-width="0.25" >shNC</text>
<text x="257.9" y="382.2" font-size="10.5" text-anchor="start" fill="#1a1a1a" stroke="#1a1a1a" stroke-width="0.25" >shWTAP</text>
<text x="315.6" y="383.5" font-size="10" text-anchor="middle" fill="#1a1a1a" stroke="#1a1a1a" stroke-width="0.25" >2#</text>
<polyline points="244.2,408.9 244.2,403.6 267.3,403.6 267.3,408.9" fill="none" stroke="#222" stroke-width="0.9"/>
<text x="255.7" y="399.9" font-size="7.9" text-anchor="middle" fill="#1a1a1a" stroke="#1a1a1a" stroke-width="0.25" >P&lt;0.001</text>
<text x="347.1" y="364.5" font-size="24" text-anchor="start" fill="#000" stroke="#000" stroke-width="0.45">I</text>
<rect x="404.4" y="413.05" width="15.5" height="95.25" fill="#aea573"/>
<rect x="427.3" y="436.8" width="15.5" height="71.5" fill="#d8adad"/>
<rect x="465.4" y="404.2" width="15.6" height="104.1" fill="#aea573"/>
<rect x="488.3" y="413.05" width="15.6" height="95.25" fill="#d8adad"/>
<line x1="398.5" y1="374.95" x2="398.5" y2="508.3" stroke="#7a7a7a" stroke-width="1" />
<line x1="395.6" y1="489.5" x2="398.2" y2="489.5" stroke="#7a7a7a" stroke-width="1" />
<text x="393.6" y="492.65" font-size="10.6" text-anchor="end" fill="#1a1a1a" stroke="#1a1a1a" stroke-width="0.25" >0.6</text>
<line x1="395.6" y1="451.5" x2="398.2" y2="451.5" stroke="#7a7a7a" stroke-width="1" />
<text x="393.6" y="454.55" font-size="10.6" text-anchor="end" fill="#1a1a1a" stroke="#1a1a1a" stroke-width="0.25" >0.8</text>
<line x1="395.6" y1="413.5" x2="398.2" y2="413.5" stroke="#7a7a7a" stroke-width="1" />
<text x="393.6" y="416.45" font-size="10.6" text-anchor="end" fill="#1a1a1a" stroke="#1a1a1a" stroke-width="0.25" >1.0</text>
<line x1="395.6" y1="374.5" x2="398.2" y2="374.5" stroke="#7a7a7a" stroke-width="1" />
<text x="393.6" y="378.35" font-size="10.6" text-anchor="end" fill="#1a1a1a" stroke="#1a1a1a" stroke-width="0.25" >1.2</text>
<line x1="398.2" y1="508.5" x2="510" y2="508.5" stroke="#7a7a7a" stroke-width="1" />
<line x1="423.5" y1="508.3" x2="423.5" y2="511.3" stroke="#7a7a7a" stroke-width="1" />
<line x1="484.5" y1="508.3" x2="484.5" y2="511.3" stroke="#7a7a7a" stroke-width="1" />
<line x1="411.5" y1="398.3" x2="411.5" y2="428.5" stroke="#4a4a4a" stroke-width="1" />
<line x1="408.1" y1="398.5" x2="415.7" y2="398.5" stroke="#4a4a4a" stroke-width="1" />
<line x1="408.1" y1="428.5" x2="415.7" y2="428.5" stroke="#4a4a4a" stroke-width="1" />
<line x1="435.5" y1="421.2" x2="435.5" y2="452.4" stroke="#4a4a4a" stroke-width="1" />
<line x1="431.3" y1="421.5" x2="438.9" y2="421.5" stroke="#4a4a4a" stroke-width="1" />
<line x1="431.3" y1="452.5" x2="438.9" y2="452.5" stroke="#4a4a4a" stroke-width="1" />
<line x1="473.5" y1="390.4" x2="473.5" y2="417" stroke="#4a4a4a" stroke-width="1" />
<line x1="469.2" y1="390.5" x2="476.8" y2="390.5" stroke="#4a4a4a" stroke-width="1" />
<line x1="469.2" y1="417.5" x2="476.8" y2="417.5" stroke="#4a4a4a" stroke-width="1" />
<line x1="496.5" y1="386.5" x2="496.5" y2="440.2" stroke="#4a4a4a" stroke-width="1" />
<line x1="492.2" y1="386.5" x2="499.8" y2="386.5" stroke="#4a4a4a" stroke-width="1" />
<line x1="492.2" y1="440.5" x2="499.8" y2="440.5" stroke="#4a4a4a" stroke-width="1" />
<circle cx="411.9" cy="395.7" r="2.25" fill="#000"/>
<circle cx="406.4" cy="423" r="2.25" fill="#000"/>
<circle cx="417.2" cy="420.9" r="2.25" fill="#000"/>
<rect x="432.9" y="418.7" width="4.4" height="4.4" fill="#000"/>
<rect x="432.9" y="436" width="4.4" height="4.4" fill="#000"/>
<rect x="432.9" y="449.1" width="4.4" height="4.4" fill="#000"/>
<circle cx="473" cy="390.4" r="2.25" fill="#000"/>
<circle cx="473" cy="405.7" r="2.25" fill="#000"/>
<circle cx="473" cy="417" r="2.25" fill="#000"/>
<rect x="493.8" y="391.9" width="4.4" height="4.4" fill="#000"/>
<rect x="493.8" y="399.8" width="4.4" height="4.4" fill="#000"/>
<rect x="493.8" y="442" width="4.4" height="4.4" fill="#000"/>
<text x="423.6" y="522.6" font-size="10.5" text-anchor="middle" fill="#1a1a1a" stroke="#1a1a1a" stroke-width="0.25" >WT</text>
<text x="484.7" y="522.6" font-size="10.5" text-anchor="middle" fill="#1a1a1a" stroke="#1a1a1a" stroke-width="0.25" >MUT</text>
<text x="0" y="0" transform="translate(360.2,440.4) rotate(-90)" font-size="10.7" text-anchor="middle" fill="#1a1a1a" stroke="#1a1a1a" stroke-width="0.25" >Relative luciferase activity</text>
<text x="0" y="0" transform="translate(372.7,440.4) rotate(-90)" font-size="10.7" text-anchor="middle" fill="#1a1a1a" stroke="#1a1a1a" stroke-width="0.25" >(Fold)</text>
<circle cx="413.8" cy="365.7" r="2.25" fill="#000"/>
<rect x="411.6" y="375.4" width="4.4" height="4.4" fill="#000"/>
<text x="426" y="369.5" font-size="10.5" text-anchor="start" fill="#1a1a1a" stroke="#1a1a1a" stroke-width="0.25" >shNC</text>
<text x="426" y="381.4" font-size="10.5" text-anchor="start" fill="#1a1a1a" stroke="#1a1a1a" stroke-width="0.25" >shWTAP</text>
<text x="485" y="383.5" font-size="10" text-anchor="middle" fill="#1a1a1a" stroke="#1a1a1a" stroke-width="0.25" >3#</text>
<text x="511.7" y="364.5" font-size="24" text-anchor="start" fill="#000" stroke="#000" stroke-width="0.45">J</text>
<line x1="567.5" y1="376" x2="567.5" y2="508.6" stroke="#7a7a7a" stroke-width="1" />
<line x1="564.9" y1="508.5" x2="567.5" y2="508.5" stroke="#7a7a7a" stroke-width="1" />
<text x="562.9" y="512" font-size="10.6" text-anchor="end" fill="#1a1a1a" stroke="#1a1a1a" stroke-width="0.25" >0</text>
<line x1="564.9" y1="464.5" x2="567.5" y2="464.5" stroke="#7a7a7a" stroke-width="1" />
<text x="562.9" y="467.8" font-size="10.6" text-anchor="end" fill="#1a1a1a" stroke="#1a1a1a" stroke-width="0.25" >50</text>
<line x1="564.9" y1="420.5" x2="567.5" y2="420.5" stroke="#7a7a7a" stroke-width="1" />
<text x="562.9" y="423.6" font-size="10.6" text-anchor="end" fill="#1a1a1a" stroke="#1a1a1a" stroke-width="0.25" >100</text>
<line x1="564.9" y1="376.5" x2="567.5" y2="376.5" stroke="#7a7a7a" stroke-width="1" />
<text x="562.9" y="379.4" font-size="10.6" text-anchor="end" fill="#1a1a1a" stroke="#1a1a1a" stroke-width="0.25" >150</text>
<line x1="567.5" y1="508.5" x2="679.7" y2="508.5" stroke="#7a7a7a" stroke-width="1" />
<line x1="583.5" y1="508.6" x2="583.5" y2="511.6" stroke="#7a7a7a" stroke-width="1" />
<line x1="610.5" y1="508.6" x2="610.5" y2="511.6" stroke="#7a7a7a" stroke-width="1" />
<line x1="637.5" y1="508.6" x2="637.5" y2="511.6" stroke="#7a7a7a" stroke-width="1" />
<line x1="663.5" y1="508.6" x2="663.5" y2="511.6" stroke="#7a7a7a" stroke-width="1" />
<text x="583.8" y="522.6" font-size="10.5" text-anchor="middle" fill="#1a1a1a" stroke="#1a1a1a" stroke-width="0.25" >1h</text>
<text x="610.4" y="522.6" font-size="10.5" text-anchor="middle" fill="#1a1a1a" stroke="#1a1a1a" stroke-width="0.25" >4h</text>
<text x="637.2" y="522.6" font-size="10.5" text-anchor="middle" fill="#1a1a1a" stroke="#1a1a1a" stroke-width="0.25" >8h</text>
<text x="663.4" y="522.6" font-size="10.5" text-anchor="middle" fill="#1a1a1a" stroke="#1a1a1a" stroke-width="0.25" >12h</text>
<line x1="583.5" y1="406.94" x2="583.5" y2="433.46" stroke="#efcccd" stroke-width="1" />
<line x1="581.4" y1="406.5" x2="586.2" y2="406.5" stroke="#efcccd" stroke-width="1" />
<line x1="581.4" y1="433.5" x2="586.2" y2="433.5" stroke="#efcccd" stroke-width="1" />
<line x1="583.5" y1="413.13" x2="583.5" y2="427.27" stroke="#cbc497" stroke-width="1" />
<line x1="581.4" y1="413.5" x2="586.2" y2="413.5" stroke="#cbc497" stroke-width="1" />
<line x1="581.4" y1="427.5" x2="586.2" y2="427.5" stroke="#cbc497" stroke-width="1" />
<line x1="610.5" y1="449.37" x2="610.5" y2="456.44" stroke="#efcccd" stroke-width="1" />
<line x1="608" y1="449.5" x2="612.8" y2="449.5" stroke="#efcccd" stroke-width="1" />
<line x1="608" y1="456.5" x2="612.8" y2="456.5" stroke="#efcccd" stroke-width="1" />
<line x1="610.5" y1="427.54" x2="610.5" y2="439.91" stroke="#cbc497" stroke-width="1" />
<line x1="608" y1="427.5" x2="612.8" y2="427.5" stroke="#cbc497" stroke-width="1" />
<line x1="608" y1="439.5" x2="612.8" y2="439.5" stroke="#cbc497" stroke-width="1" />
<line x1="637.5" y1="465.28" x2="637.5" y2="474.12" stroke="#efcccd" stroke-width="1" />
<line x1="634.8" y1="465.5" x2="639.6" y2="465.5" stroke="#efcccd" stroke-width="1" />
<line x1="634.8" y1="474.5" x2="639.6" y2="474.5" stroke="#efcccd" stroke-width="1" />
<line x1="637.5" y1="445.84" x2="637.5" y2="456.44" stroke="#cbc497" stroke-width="1" />
<line x1="634.8" y1="445.5" x2="639.6" y2="445.5" stroke="#cbc497" stroke-width="1" />
<line x1="634.8" y1="456.5" x2="639.6" y2="456.5" stroke="#cbc497" stroke-width="1" />
<line x1="663.5" y1="476.33" x2="663.5" y2="482.52" stroke="#efcccd" stroke-width="1" />
<line x1="661" y1="476.5" x2="665.8" y2="476.5" stroke="#efcccd" stroke-width="1" />
<line x1="661" y1="482.5" x2="665.8" y2="482.5" stroke="#efcccd" stroke-width="1" />
<line x1="663.5" y1="456.44" x2="663.5" y2="461.75" stroke="#cbc497" stroke-width="1" />
<line x1="661" y1="456.5" x2="665.8" y2="456.5" stroke="#cbc497" stroke-width="1" />
<line x1="661" y1="461.5" x2="665.8" y2="461.5" stroke="#cbc497" stroke-width="1" />
<polyline points="583.8,420.2 610.4,452.91 637.2,469.7 663.4,479.43" fill="none" stroke="#e2b0b2" stroke-width="1"/>
<polyline points="583.8,420.2 610.4,433.73 637.2,451.14 663.4,459.1" fill="none" stroke="#b3a86e" stroke-width="1"/>
<rect x="581.2" y="417.6" width="5.2" height="5.2" fill="#e2b0b2"/>
<rect x="607.8" y="450.31" width="5.2" height="5.2" fill="#e2b0b2"/>
<rect x="634.6" y="467.1" width="5.2" height="5.2" fill="#e2b0b2"/>
<rect x="660.8" y="476.83" width="5.2" height="5.2" fill="#e2b0b2"/>
<circle cx="583.8" cy="420.2" r="2.7" fill="#b3a86e"/>
<circle cx="610.4" cy="433.73" r="2.7" fill="#b3a86e"/>
<circle cx="637.2" cy="451.14" r="2.7" fill="#b3a86e"/>
<circle cx="663.4" cy="459.1" r="2.7" fill="#b3a86e"/>
<line x1="577.7" y1="365.5" x2="590" y2="365.5" stroke="#b3a86e" stroke-width="1" />
<circle cx="583.8" cy="365.7" r="2.7" fill="#b3a86e"/>
<line x1="577.7" y1="377.5" x2="590" y2="377.5" stroke="#e2b0b2" stroke-width="1" />
<rect x="581.2" y="375.3" width="5.2" height="5.2" fill="#e2b0b2"/>
<text x="596.1" y="369.5" font-size="10.5" text-anchor="start" fill="#1a1a1a" stroke="#1a1a1a" stroke-width="0.25" >shNC</text>
<text x="596.1" y="381.7" font-size="10.5" text-anchor="start" fill="#1a1a1a" stroke="#1a1a1a" stroke-width="0.25" >shWTAP</text>
<polyline points="667.4,458.4 672.7,458.4 672.7,479.8 667.4,479.8" fill="none" stroke="#222" stroke-width="0.9"/>
<text x="0" y="0" transform="translate(683,469.2) rotate(-90)" font-size="7.6" text-anchor="middle" fill="#1a1a1a" stroke="#1a1a1a" stroke-width="0.25" >P&lt;0.01</text>
<text x="0" y="0" transform="translate(526.6,439.8) rotate(-90)" font-size="10.7" text-anchor="middle" fill="#1a1a1a" stroke="#1a1a1a" stroke-width="0.25" >Relative expression of</text>
<text x="0" y="0" transform="translate(540.4,440.2) rotate(-90)" font-size="10.7" text-anchor="middle" fill="#1a1a1a" stroke="#1a1a1a" stroke-width="0.25" >PRLR (%)</text>
</svg>
</body></html>
